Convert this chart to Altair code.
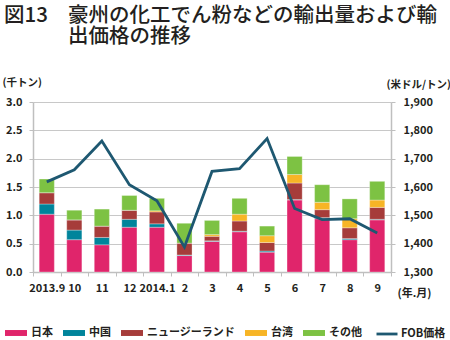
import altair as alt
import pandas as pd

# ---- data ----
months = ["2013.9", "10", "11", "12", "2014.1", "2", "3", "4", "5", "6", "7", "8", "9"]
japan = [1.02, 0.57, 0.48, 0.79, 0.79, 0.29, 0.54, 0.71, 0.35, 1.27, 0.94, 0.57, 0.92]
china = [0.18, 0.17, 0.13, 0.14, 0.06, 0.01, 0.01, 0.01, 0.02, 0.01, 0.02, 0.02, 0.01]
nz = [0.20, 0.18, 0.20, 0.16, 0.21, 0.21, 0.08, 0.18, 0.15, 0.29, 0.14, 0.19, 0.21]
taiwan = [0.00, 0.00, 0.00, 0.00, 0.02, 0.00, 0.03, 0.12, 0.12, 0.15, 0.13, 0.16, 0.13]
other = [0.24, 0.17, 0.30, 0.26, 0.22, 0.35, 0.25, 0.28, 0.17, 0.32, 0.31, 0.35, 0.33]
fob = [1618, 1661, 1762, 1608, 1551, 1388, 1655, 1665, 1771, 1524, 1485, 1488, 1438]

series_names = ["日本", "中国", "ニュージーランド", "台湾", "その他"]
line_name = "FOB価格"
left_ticks = [0.0, 0.5, 1.0, 1.5, 2.0, 2.5, 3.0]
right_ticks = [1300, 1400, 1500, 1600, 1700, 1800, 1900]

title_fig = "図13"
title_line1 = "豪州の化工でん粉などの輸出量および輸"
title_line2 = "出価格の推移"
left_unit = "(千トン)"
right_unit = "(米ドル/トン)"
x_unit = "(年.月)"

# ---- style ----
series_colors = ["#E0256B", "#00849B", "#A63C3A", "#F7B526", "#7DC243"]
line_color = "#1E5871"
FONT = "Noto Sans CJK JP"
TEXT = "#231F20"
AXIS_GRAY = "#BFBFBF"

rows = []
for i, m in enumerate(months):
    for k, (name, vals) in enumerate(zip(series_names, [japan, china, nz, taiwan, other])):
        rows.append({"month": m, "series": name, "order": k, "value": vals[i]})
bars_df = pd.DataFrame(rows)
line_df = pd.DataFrame({"month": months, "fob": fob, "label": [line_name] * len(months)})

x_enc = alt.X(
    "month:N",
    sort=months,
    scale=alt.Scale(paddingInner=0, paddingOuter=0),
    axis=alt.Axis(
        title=x_unit, labelAngle=0, tickBand="extent", tickSize=4, labelPadding=6,
        titleAngle=0, titleX=364, titleY=21, titleAlign="left", titleBaseline="middle",
        titleFontSize=11,
    ),
)

bars = alt.Chart(bars_df).mark_bar(
    width=alt.RelativeBandSize(0.55), stroke="white", strokeWidth=0.5, strokeOpacity=0.6
).encode(
    x=x_enc,
    y=alt.Y(
        "value:Q", stack="zero",
        scale=alt.Scale(domain=[0, 3], nice=False),
        axis=alt.Axis(
            values=left_ticks, format=".1f", grid=True, tickSize=4, labelPadding=7,
            title=left_unit, titleAngle=0, titleX=-31, titleY=-20, titleAlign="left",
            titleBaseline="middle", titleFontSize=10.5,
        ),
    ),
    color=alt.Color(
        "series:N",
        scale=alt.Scale(domain=series_names, range=series_colors),
        legend=alt.Legend(
            orient="none", legendX=-28, legendY=220, direction="horizontal", title=None,
            symbolType="M-1,-0.27H1V0.27H-1Z", symbolSize=484, symbolStrokeWidth=0,
            labelFontSize=11, labelOffset=4, columnPadding=10,
        ),
    ),
    order=alt.Order("order:Q", sort="ascending"),
)

line = alt.Chart(line_df).mark_line(strokeWidth=2.8).encode(
    x=x_enc,
    y=alt.Y(
        "fob:Q",
        scale=alt.Scale(domain=[1300, 1900], nice=False, zero=False),
        axis=alt.Axis(
            orient="right", values=right_ticks, format=",d", grid=False, tickSize=4,
            labelPadding=8, title=right_unit, titleAngle=0, titleX=-5, titleY=-18,
            titleAlign="left", titleBaseline="middle", titleFontSize=10.5,
        ),
    ),
    stroke=alt.Stroke(
        "label:N",
        scale=alt.Scale(domain=[line_name], range=[line_color]),
        legend=alt.Legend(
            orient="none", legendX=342, legendY=220, direction="horizontal", title=None,
            symbolType="stroke", symbolSize=441, symbolStrokeWidth=2.8,
            labelFontSize=11, labelOffset=2,
        ),
    ),
)

one = pd.DataFrame({"a": [0]})
title_style = dict(font=FONT, fontSize=20.5, fontWeight=500, color=TEXT, align="left", baseline="alphabetic")
t_fig = alt.Chart(one).mark_text(text=title_fig, **title_style).encode(
    x=alt.value(-29), y=alt.value(-80.5))
t_l1 = alt.Chart(one).mark_text(text=title_line1, **title_style).encode(
    x=alt.value(35), y=alt.value(-80.5))
t_l2 = alt.Chart(one).mark_text(text=title_line2, **title_style).encode(
    x=alt.value(35), y=alt.value(-59))

chart = alt.layer(bars, line, t_fig, t_l1, t_l2).resolve_scale(
    y="independent"
).properties(
    width=358, height=170,
    padding={"left": 33, "top": 102, "right": 59, "bottom": 68},
    autosize=alt.AutoSizeParams(type="none"),
).configure_view(stroke=None).configure_axis(
    labelFont=FONT, labelFontSize=11, labelFontWeight="bold", labelColor=TEXT,
    titleFont=FONT, titleFontWeight="bold", titleColor=TEXT,
    domainColor=AXIS_GRAY, tickColor=AXIS_GRAY, gridColor="#C8C8C8", domainWidth=1.5,
).configure_legend(
    labelFont=FONT, labelFontWeight="bold", labelColor=TEXT,
)

chart.save("out.html", embed_options={"renderer": "svg", "actions": False})
